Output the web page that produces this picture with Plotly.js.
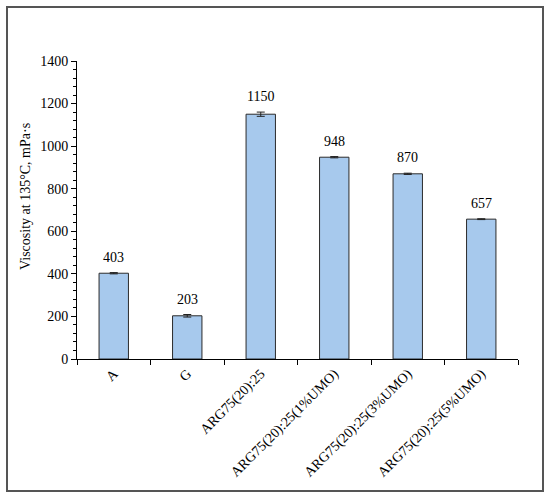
<!DOCTYPE html>
<html>
<head>
<meta charset="utf-8">
<script src="https://cdn.plot.ly/plotly-3.0.1.min.js"></script>
<style>html,body{margin:0;padding:0;background:#fff;}#chart{width:550px;height:498px;}</style>
</head>
<body>
<div id="chart"></div>
<script>
const categories = ["A", "G", "ARG75(20):25", "ARG75(20):25(1%UMO)", "ARG75(20):25(3%UMO)", "ARG75(20):25(5%UMO)"];
const viscosity = [403, 203, 1150, 948, 870, 657];
const errors = [3, 6, 10, 3, 3, 2];
const yTickVals = [0, 200, 400, 600, 800, 1000, 1200, 1400];
const yTitle = "Viscosity at 135°C, mPa·s";

const font = "Liberation Serif, Times New Roman, serif";

const trace = {
  type: "bar",
  x: categories,
  y: viscosity,
  width: 0.4,
  marker: {color: "#A7C9ED", line: {color: "#2b2b2b", width: 1}},
  error_y: {type: "data", array: errors, visible: true, color: "#222", thickness: 1, width: 4},
  hoverinfo: "none"
};

const annotations = categories.map((c, i) => ({
  x: c, y: viscosity[i] + errors[i], xref: "x", yref: "y",
  text: String(viscosity[i]), showarrow: false,
  yanchor: "bottom", yshift: 6,
  font: {family: font, size: 14, color: "#000"}
}));
annotations.push({
  xref: "paper", yref: "paper",
  x: (25 - 77) / 441, y: (359 - 197) / 298,
  xanchor: "center", yanchor: "middle",
  text: yTitle, textangle: -90, showarrow: false,
  font: {family: font, size: 14, color: "#000"}
});

const layout = {
  width: 550, height: 498,
  margin: {l: 77, r: 32, t: 61, b: 139},
  paper_bgcolor: "#fff", plot_bgcolor: "#fff",
  showlegend: false,
  font: {family: font, size: 14, color: "#000"},
  xaxis: {
    type: "category",
    tickangle: -45,
    tickson: "boundaries",
    ticks: "outside", ticklen: 5, tickcolor: "#000", tickwidth: 1,
    showline: true, linecolor: "#000", linewidth: 1,
    showgrid: false, zeroline: false,
    tickfont: {family: font, size: 14, color: "#000"},
    fixedrange: true
  },
  yaxis: {
    range: [0, 1400],
    tickvals: yTickVals,
    ticks: "outside", ticklen: 5, tickcolor: "#000", tickwidth: 1,
    minor: {dtick: 40, ticks: "outside", ticklen: 3, tickcolor: "#000", tickwidth: 1, showgrid: false},
    showline: true, linecolor: "#000", linewidth: 1,
    showgrid: false, zeroline: false,
    tickfont: {family: font, size: 14, color: "#000"},
    fixedrange: true
  },
  annotations: annotations,
  shapes: [{
    type: "rect", xref: "paper", yref: "paper",
    x0: (7 - 77) / 441, x1: (543 - 77) / 441,
    y0: (359 - 491) / 298, y1: (359 - 7) / 298,
    line: {color: "#555", width: 2}, fillcolor: "rgba(0,0,0,0)", layer: "below"
  }]
};

Plotly.newPlot("chart", [trace], layout, {displayModeBar: false, staticPlot: true});
</script>
</body>
</html>
